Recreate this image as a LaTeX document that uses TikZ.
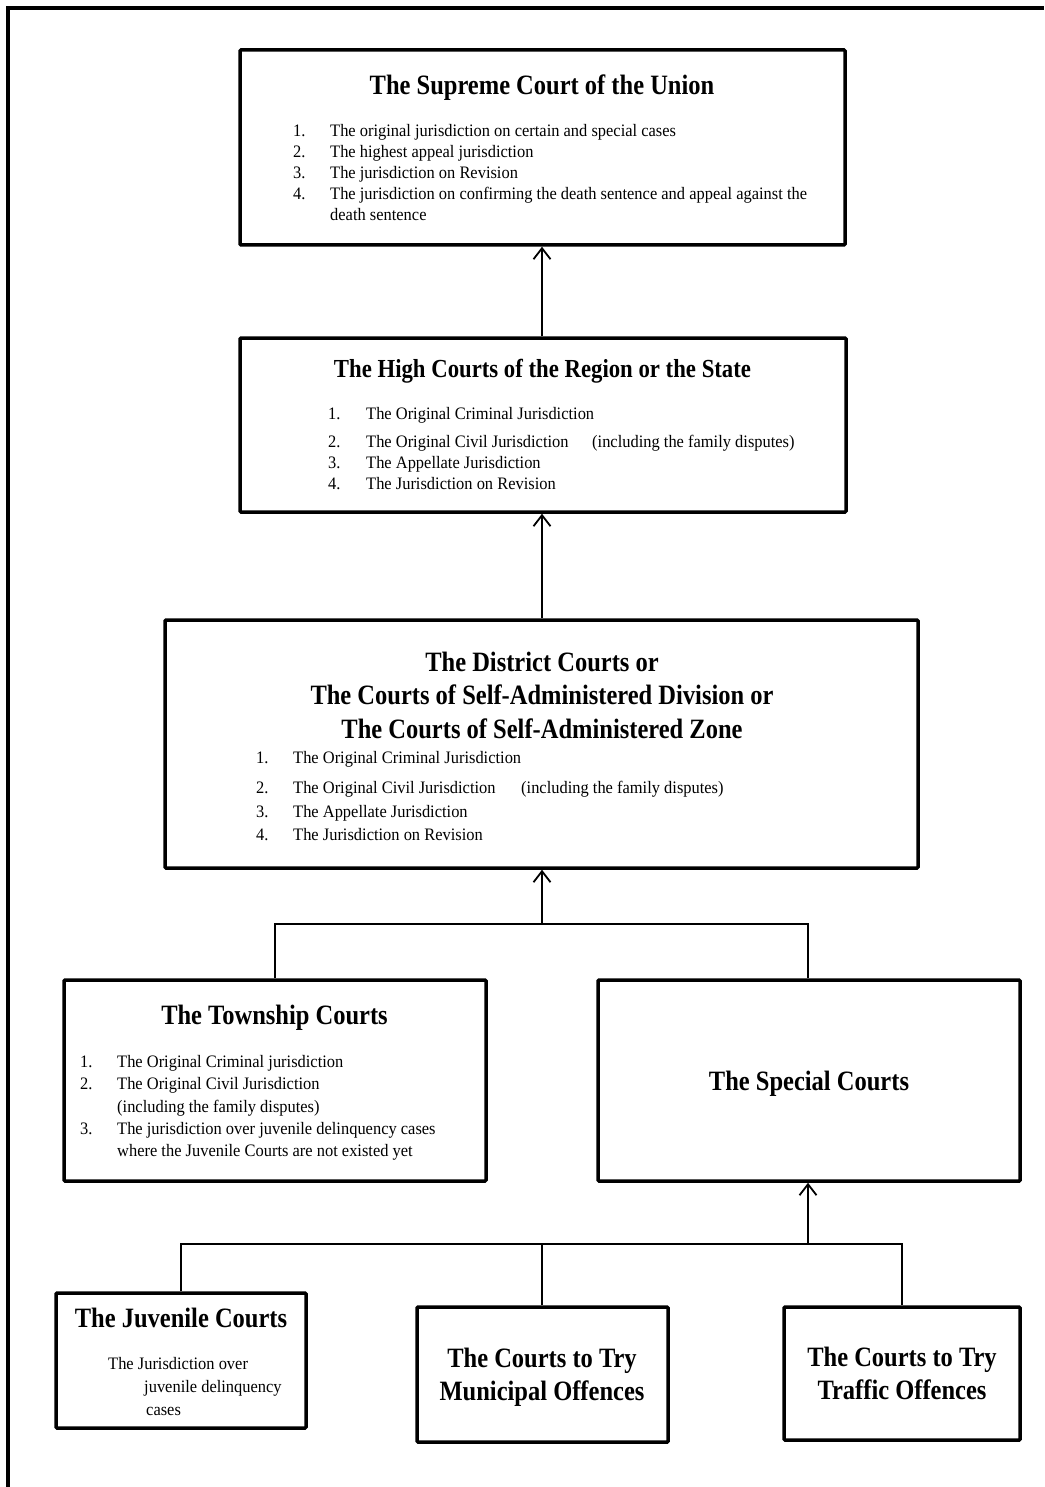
\documentclass[tikz,border=0pt]{standalone}
\usepackage{fontspec}
\setmainfont{Liberation Serif}
\newfontfamily\headfont{Liberation Serif}[FakeStretch=0.875]
\newfontfamily\bodyfont{Liberation Serif}[FakeStretch=0.94]
\usetikzlibrary{arrows.meta}

% one numbered line of a jurisdiction list: name, number x, text x, baseline y, number, text
\newcommand\listline[6]{%
  \node[item] (#1-num) at (#2,#4) {#5};
  \node[item] (#1) at (#3,#4) {#6};}

\begin{document}
\begin{tikzpicture}[x=1pt,y=-1pt,
  courtbox/.style={draw, line width=3.5pt, rounded corners=1pt, inner sep=0pt},
  link/.style={line width=1.8pt},
  uparrow/.style={link, -{Straight Barb[length=11pt,width=17pt,line width=1.8pt]}},
  head/.style={anchor=base, inner sep=0pt, font=\headfont\bfseries\fontsize{28}{33}\selectfont},
  item/.style={anchor=base west, inner sep=0pt, font=\bodyfont\fontsize{17.5}{21}\selectfont},
]
\useasboundingbox (0,0) rectangle (1044,1487);
\fill[white] (0,0) rectangle (1044,1487);

% page frame (top and left edges)
\draw[line width=4pt] (8,1487) -- (8,8) -- (1044,8);

% court boxes
\node[courtbox, minimum width=605pt, minimum height=195pt] (sup)  at (542.5,147.5) {};
\node[courtbox, minimum width=606pt, minimum height=174pt] (high) at (543,425) {};
\node[courtbox, minimum width=753pt, minimum height=248pt] (dist) at (541.5,744) {};
\node[courtbox, minimum width=422pt, minimum height=201pt] (town) at (275,1080.5) {};
\node[courtbox, minimum width=422pt, minimum height=201pt] (spec) at (809,1080.5) {};
\node[courtbox, minimum width=250pt, minimum height=135pt] (juv)  at (181,1360.5) {};
\node[courtbox, minimum width=251pt, minimum height=135pt] (muni) at (542.5,1374.5) {};
\node[courtbox, minimum width=236pt, minimum height=133pt] (traf) at (902,1373.5) {};

% Supreme Court
\node[head] (sup-title) at (542,95) {The Supreme Court of the Union};
\listline{sup-1}{293}{330}{137}{1.}{The original jurisdiction on certain and special cases}
\listline{sup-2}{293}{330}{158}{2.}{The highest appeal jurisdiction}
\listline{sup-3}{293}{330}{179}{3.}{The jurisdiction on Revision}
\listline{sup-4}{293}{330}{200}{4.}{The jurisdiction on confirming the death sentence and appeal against the}
\node[item] (sup-4b) at (330,221) {death sentence};

% High Courts
\node[head, font=\headfont\bfseries\fontsize{26}{31}\selectfont] (high-title) at (542.5,377) {The High Courts of the Region or the State};
\listline{high-1}{328}{366}{419}{1.}{The Original Criminal Jurisdiction}
\listline{high-2}{328}{366}{447}{2.}{The Original Civil Jurisdiction}
\node[item] (high-2b) at (592,447) {(including the family disputes)};
\listline{high-3}{328}{366}{468}{3.}{The Appellate Jurisdiction}
\listline{high-4}{328}{366}{489}{4.}{The Jurisdiction on Revision}

% District Courts
\node[head] (dist-t1) at (542,671) {The District Courts or};
\node[head] (dist-t2) at (542,704) {The Courts of Self-Administered Division or};
\node[head] (dist-t3) at (542,738) {The Courts of Self-Administered Zone};
\listline{dist-1}{256}{293}{763}{1.}{The Original Criminal Jurisdiction}
\listline{dist-2}{256}{293}{793}{2.}{The Original Civil Jurisdiction}
\node[item] (dist-2b) at (521,793) {(including the family disputes)};
\listline{dist-3}{256}{293}{817}{3.}{The Appellate Jurisdiction}
\listline{dist-4}{256}{293}{840}{4.}{The Jurisdiction on Revision}

% Township Courts
\node[head] (town-title) at (274.5,1024) {The Township Courts};
\listline{town-1}{80}{117}{1067}{1.}{The Original Criminal jurisdiction}
\listline{town-2}{80}{117}{1089}{2.}{The Original Civil Jurisdiction}
\node[item] (town-2b) at (117,1112) {(including the family disputes)};
\listline{town-3}{80}{117}{1134}{3.}{The jurisdiction over juvenile delinquency cases}
\node[item] (town-3b) at (117,1156) {where the Juvenile Courts are not existed yet};

% Special Courts
\node[head] (spec-title) at (809,1090) {The Special Courts};

% Juvenile Courts
\node[head] (juv-title) at (181,1327) {The Juvenile Courts};
\node[item] (juv-1) at (108,1369) {The Jurisdiction over};
\node[item] (juv-2) at (144,1392) {juvenile delinquency};
\node[item] (juv-3) at (146,1415) {cases};

% Municipal and traffic offence courts
\node[head] (muni-t1) at (542,1367) {The Courts to Try};
\node[head] (muni-t2) at (542,1400) {Municipal Offences};
\node[head] (traf-t1) at (902,1366) {The Courts to Try};
\node[head] (traf-t2) at (902,1399) {Traffic Offences};

% connectors
\coordinate (j1) at (542,924);
\coordinate (j2) at (808,1244);
\draw[uparrow] (high.north -| 542,0) -- (sup.south -| 542,0);
\draw[uparrow] (dist.north -| 542,0) -- (high.south -| 542,0);
\draw[link] (town.north) |- (j1) -| (spec.north -| j2);
\draw[uparrow] (j1) -- (dist.south -| j1);
\draw[link] (juv.north) |- (j2) -| (traf.north);
\draw[link] (muni.north -| j1) -- (j1 |- j2);
\draw[uparrow] (j2) -- (spec.south -| j2);
\end{tikzpicture}
\end{document}
